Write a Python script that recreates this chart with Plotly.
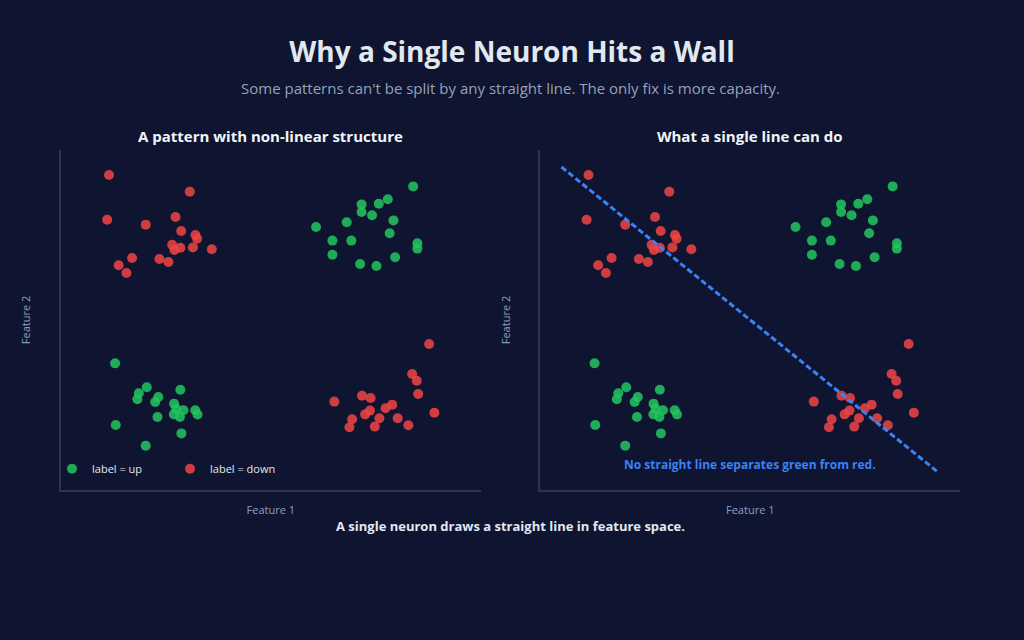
import plotly.graph_objects as go
from plotly.subplots import make_subplots

# class "up" (green) clusters: bottom-left and top-right
up_x = [-0.242, -0.091, -0.129, -0.136, -0.036, -0.051, 0.069, 0.039, 0.049, 0.084, 0.038, 0.067, 0.140, 0.151, -0.040, -0.239, 0.074, -0.096,
        1.179, 1.058, 1.015, 0.933, 0.933, 0.983, 0.862, 1.085, 0.716, 1.067, 0.794, 0.884, 1.199, 1.199, 0.794, 0.926, 1.004, 1.093]
up_y = [0.245, 0.104, 0.069, 0.034, 0.047, 0.018, 0.090, 0.008, -0.022, -0.031, -0.055, -0.071, -0.031, -0.056, -0.071, -0.118, -0.167, -0.239,
        1.286, 1.210, 1.184, 1.180, 1.135, 1.116, 1.075, 1.086, 1.047, 1.010, 0.967, 0.967, 0.951, 0.920, 0.884, 0.829, 0.818, 0.869]

# class "down" (red) clusters: top-left and bottom-right
down_x = [-0.271, 0.114, -0.280, -0.096, 0.046, 0.073, 0.141, 0.149, 0.030, 0.041, 0.069, 0.129, 0.219, -0.161, -0.225, -0.188, -0.031, 0.012,
          1.255, 1.174, 1.196, 1.203, 1.280, 0.803, 0.935, 0.976, 1.079, 1.047, 0.973, 0.950, 0.888, 1.018, 1.105, 0.875, 0.996, 1.156]
down_y = [1.353, 1.255, 1.090, 1.061, 1.106, 1.024, 1.000, 0.978, 0.943, 0.912, 0.925, 0.927, 0.916, 0.865, 0.822, 0.776, 0.859, 0.841,
          0.359, 0.182, 0.143, 0.065, -0.045, 0.020, 0.055, 0.041, 0.002, -0.019, -0.033, -0.055, -0.084, -0.078, -0.078, -0.131, -0.127, -0.119]

# the single linear boundary
line_x = [-0.4, 1.4]
line_y = [1.4, -0.4]

BG = "#0f1430"
GREEN = "#22c55e"
RED = "#ef4444"
BLUE = "#3b82f6"
FONT = "Open Sans"

fig = make_subplots(rows=1, cols=2, horizontal_spacing=0.0667,
                    subplot_titles=("A pattern with non-linear structure", "What a single line can do"))

for col in (1, 2):
    fig.add_trace(go.Scatter(x=up_x, y=up_y, mode="markers", name="label = up",
                             marker=dict(color=GREEN, size=10, opacity=0.85),
                             showlegend=(col == 1), legendgroup="up"), row=1, col=col)
    fig.add_trace(go.Scatter(x=down_x, y=down_y, mode="markers", name="label = down",
                             marker=dict(color=RED, size=10, opacity=0.85),
                             showlegend=(col == 1), legendgroup="down"), row=1, col=col)

fig.add_trace(go.Scatter(x=line_x, y=line_y, mode="lines", showlegend=False,
                         line=dict(color=BLUE, width=3, dash="6px,3px")), row=1, col=2)

fig.update_xaxes(range=[-0.5, 1.5], showgrid=False, zeroline=False, showticklabels=False,
                 showline=True, linecolor="#2b3550", linewidth=2,
                 title=dict(text="Feature 1", font=dict(size=11, color="#8ea0bf")))
fig.update_yaxes(range=[-0.5, 1.5], showgrid=False, zeroline=False, showticklabels=False,
                 showline=True, linecolor="#2b3550", linewidth=2,
                 title=dict(text="Feature 2", font=dict(size=11, color="#8ea0bf"), standoff=26))

for a in fig.layout.annotations:
    a.font = dict(family=FONT, size=15, color="#f1f5f9")
    a.text = "<b>" + a.text + "</b>"
    a.yshift = 2

fig.add_annotation(text="<b>No straight line separates green from red.</b>", xref="x2 domain", yref="y2 domain",
                   x=0.5, y=0.076, yanchor="middle", showarrow=False, font=dict(size=12, color=BLUE, family=FONT))
fig.add_annotation(text="Some patterns can't be split by any straight line. The only fix is more capacity.",
                   xref="paper", yref="paper", x=0.5, y=1.182, yanchor="middle", showarrow=False,
                   font=dict(size=15, color="#94a3b8", family=FONT))
fig.add_annotation(text="<b>A single neuron draws a straight line in feature space.</b>", xref="paper", yref="paper",
                   x=0.5, y=-0.106, yanchor="middle", showarrow=False, font=dict(size=13, color="#e2e8f0", family=FONT))

fig.update_layout(
    width=1024, height=640,
    paper_bgcolor=BG, plot_bgcolor=BG,
    font=dict(family=FONT, color="#e2e8f0"),
    title=dict(text="<b>Why a Single Neuron Hits a Wall</b>", x=0.5, xanchor="center",
               y=1 - 52 / 640, yanchor="middle", font=dict(size=28, color="#e2e8f0")),
    legend=dict(orientation="h", x=-0.01, y=0.02, xanchor="left", yanchor="bottom",
                bgcolor="rgba(0,0,0,0)", font=dict(size=11, color="#e2e8f0"), entrywidth=73),
    margin=dict(l=61, r=64, t=150, b=150),
)

fig.write_html("out.html", config={"displayModeBar": False},
               post_script="document.body.style.margin='0';document.body.style.background='%s';" % BG)
